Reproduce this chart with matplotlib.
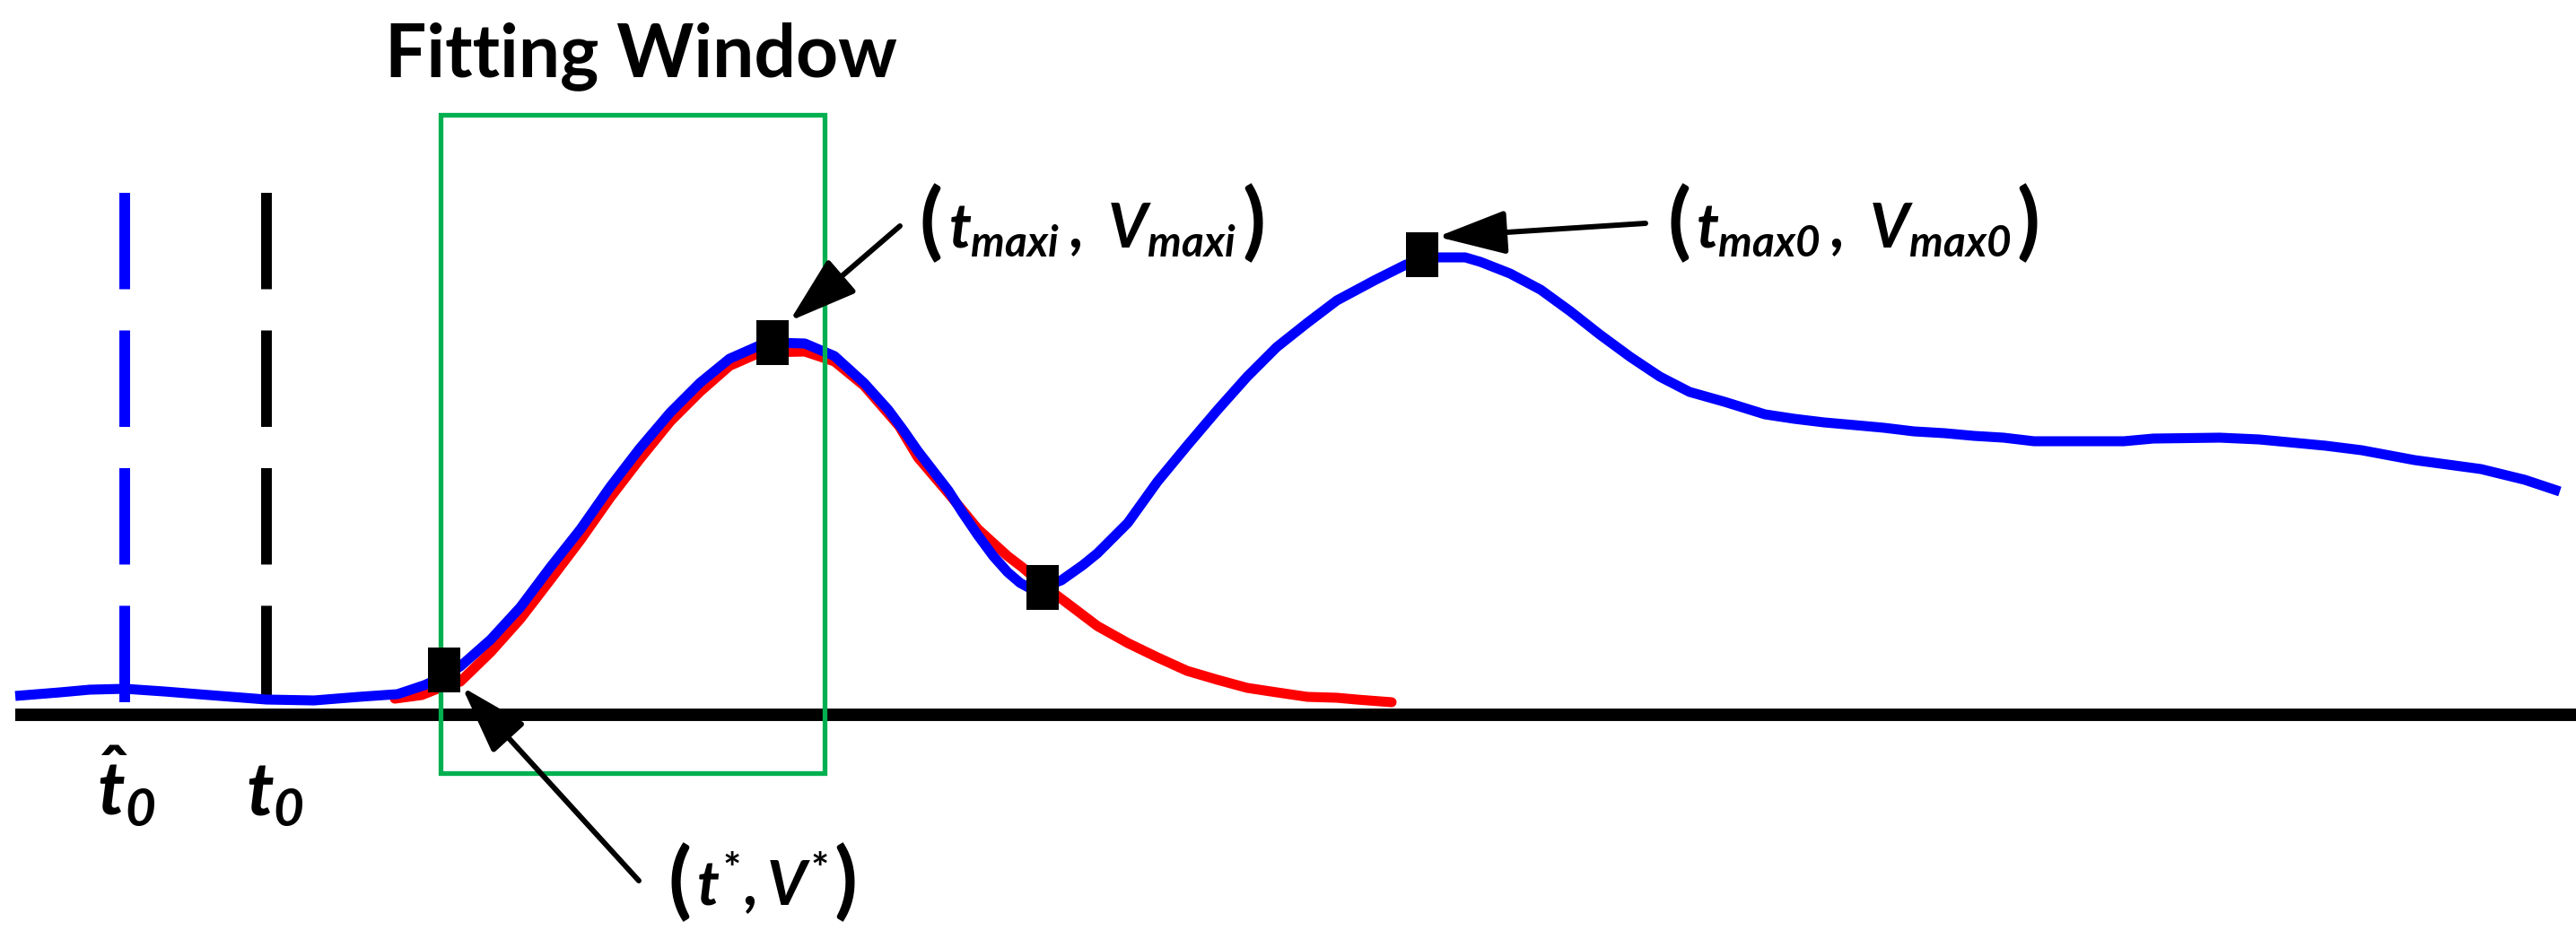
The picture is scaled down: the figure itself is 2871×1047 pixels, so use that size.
import numpy as np
import matplotlib
matplotlib.use('Agg')
import matplotlib.pyplot as plt
from matplotlib.patches import Rectangle

plt.rcParams['font.family'] = ['Lato', 'DejaVu Sans']
plt.rcParams['mathtext.fontset'] = 'custom'
plt.rcParams['mathtext.rm'] = 'Lato:bold'
plt.rcParams['mathtext.bf'] = 'Lato:bold'
plt.rcParams['mathtext.it'] = 'Lato:italic:bold'
plt.rcParams['mathtext.sf'] = 'Lato:italic:bold'
plt.rcParams['mathtext.fallback'] = 'stixsans'

# measured signal (blue): time, voltage (arbitrary units, baseline = 0)
t_meas = [17, 67, 100, 139, 183, 233, 297, 350, 400, 443, 473, 495, 513,
          547, 580, 613, 647, 680, 713, 747, 780, 813, 847, 863, 897, 930,
          963, 990, 1007, 1023, 1040, 1057, 1073, 1090, 1107, 1123, 1137,
          1150, 1165, 1183, 1207, 1223, 1257, 1290, 1323, 1357, 1390, 1423,
          1457, 1490, 1533, 1567, 1603, 1633, 1650, 1683, 1717, 1750, 1783,
          1817, 1850, 1883, 1922, 1967, 2000, 2033, 2067, 2100, 2133, 2167,
          2200, 2233, 2267, 2300, 2333, 2367, 2400, 2474, 2518, 2592, 2632,
          2691, 2765, 2814, 2853]
v_meas = [21, 25, 28, 29, 26, 22, 17, 16, 20, 23, 33, 43, 54,
          84, 120, 164, 207, 254, 297, 337, 370, 397, 412, 415, 414, 400,
          370, 340, 317, 294, 272, 250, 225, 200, 177, 159, 147,
          140, 143, 150, 167, 180, 214, 260, 300, 340, 377, 410,
          437, 462, 485, 502, 510, 510, 505, 492, 474, 450, 424,
          399, 377, 360, 349, 335, 330, 326, 323, 320, 316, 314,
          311, 309, 305, 305, 305, 305, 308, 309, 307, 300, 295,
          284, 274, 262, 249]

# fitted single response (red)
t_fit = [440, 470, 490, 513, 547, 580, 613, 647, 680, 713, 747, 780,
         813, 847, 897, 930, 963, 1002, 1023, 1057, 1090, 1123, 1140, 1162,
         1190, 1223, 1257, 1290, 1323, 1357, 1390, 1423, 1457, 1490, 1512,
         1551]
v_fit = [18, 22, 30, 37, 70, 107, 150, 195, 242, 285, 327, 360,
         389, 404, 405, 394, 367, 322, 287, 247, 207, 177, 164, 145,
         124, 99, 80, 64, 49, 39, 30, 25, 20, 19, 17,
         14]

# key points: (t*, V*), (t_maxi, V_maxi), minimum, (t_max0, V_max0)
t_key = [495, 861, 1162, 1585]
v_key = [50, 415, 142, 513]

# onset markers
t0_hat = 139
t0 = 297
# fitting window (t start, t end)
window = [491, 919]

fig = plt.figure(figsize=(28.71, 10.47), dpi=100)
ax = fig.add_axes([0, 0, 1, 1])
ax.set_xlim(0, 2871)
ax.set_ylim(-250, 797)
ax.axis('off')
renderer = fig.canvas.get_renderer()

# baseline
ax.plot([17, 2871], [0, 0], color='black', lw=10, solid_capstyle='butt', zorder=2)

# dashed onset lines
for xx, col in [(t0_hat, '#0000FF'), (t0, 'black')]:
    ln, = ax.plot([xx, xx], [582, 5], color=col, lw=8.6, zorder=3)
    ln.set_dashes((9, 3.85))
    ln.set_dash_capstyle('butt')

# fitting window
ax.add_patch(Rectangle((window[0], -65), window[1] - window[0], 734,
                       fill=False, edgecolor='#00B050', lw=3.8, zorder=6))

# curves
ax.plot(t_fit, v_fit, color='#FF0000', lw=8, solid_capstyle='round',
        solid_joinstyle='round', zorder=4)
ax.plot(t_meas, v_meas, color='#0000FF', lw=8, solid_capstyle='butt',
        solid_joinstyle='round', zorder=5)

rect = [(-0.375, -0.5), (0.375, -0.5), (0.375, 0.5), (-0.375, 0.5), (-0.375, -0.5)]
ax.plot(t_key, v_key, linestyle='none', marker=rect, markersize=35.3,
        markerfacecolor='black', markeredgewidth=0, zorder=7)

# labels
ax.text(714, 712, 'Fitting Window', ha='center', va='baseline',
        fontsize=59, fontweight='bold')
ax.text(141, -111, r'$\hat{t}_{\mathsf{0}}$', ha='center', va='baseline', fontsize=60)
ax.text(306, -111, r'$t_{\mathsf{0}}$', ha='center', va='baseline', fontsize=60)

arrow = dict(arrowstyle='-|>,head_length=47,head_width=15', mutation_scale=1,
             lw=4.3, color='black', shrinkA=0, shrinkB=0)
ax.annotate('', xy=(880, 439), xytext=(1003, 545), arrowprops=arrow, zorder=8)
ax.annotate('', xy=(1602, 533), xytext=(1834, 548), arrowprops=arrow, zorder=8)
ax.annotate('', xy=(515, 31), xytext=(712, -185), arrowprops=arrow, zorder=8)


def right_edge(txt):
    bb = txt.get_window_extent(renderer)
    return ax.transData.inverted().transform((bb.x1, bb.y0))[0]


def point_label(x, y, body, size=49, psize=68, gap=6):
    # big upright parentheses around an italic math body
    lp = ax.text(x, y - 3, '(', ha='left', va='baseline', fontsize=psize,
                 fontweight='bold')
    bt = ax.text(right_edge(lp) + gap, y, body, ha='left', va='baseline',
                 fontsize=size)
    ax.text(right_edge(bt) + gap, y - 3, ')', ha='left', va='baseline',
            fontsize=psize, fontweight='bold')


point_label(1025, 522, r'$t_{\mathit{maxi}}\,,\ V_{\mathit{maxi}}$')
point_label(1858, 522, r'$t_{\mathit{max}\mathsf{0}}\,,\ V_{\mathit{max}\mathsf{0}}$')
point_label(744, -213, r'$t^{*},V^{*}$')

fig.savefig('out.png', dpi=100, facecolor='white')
